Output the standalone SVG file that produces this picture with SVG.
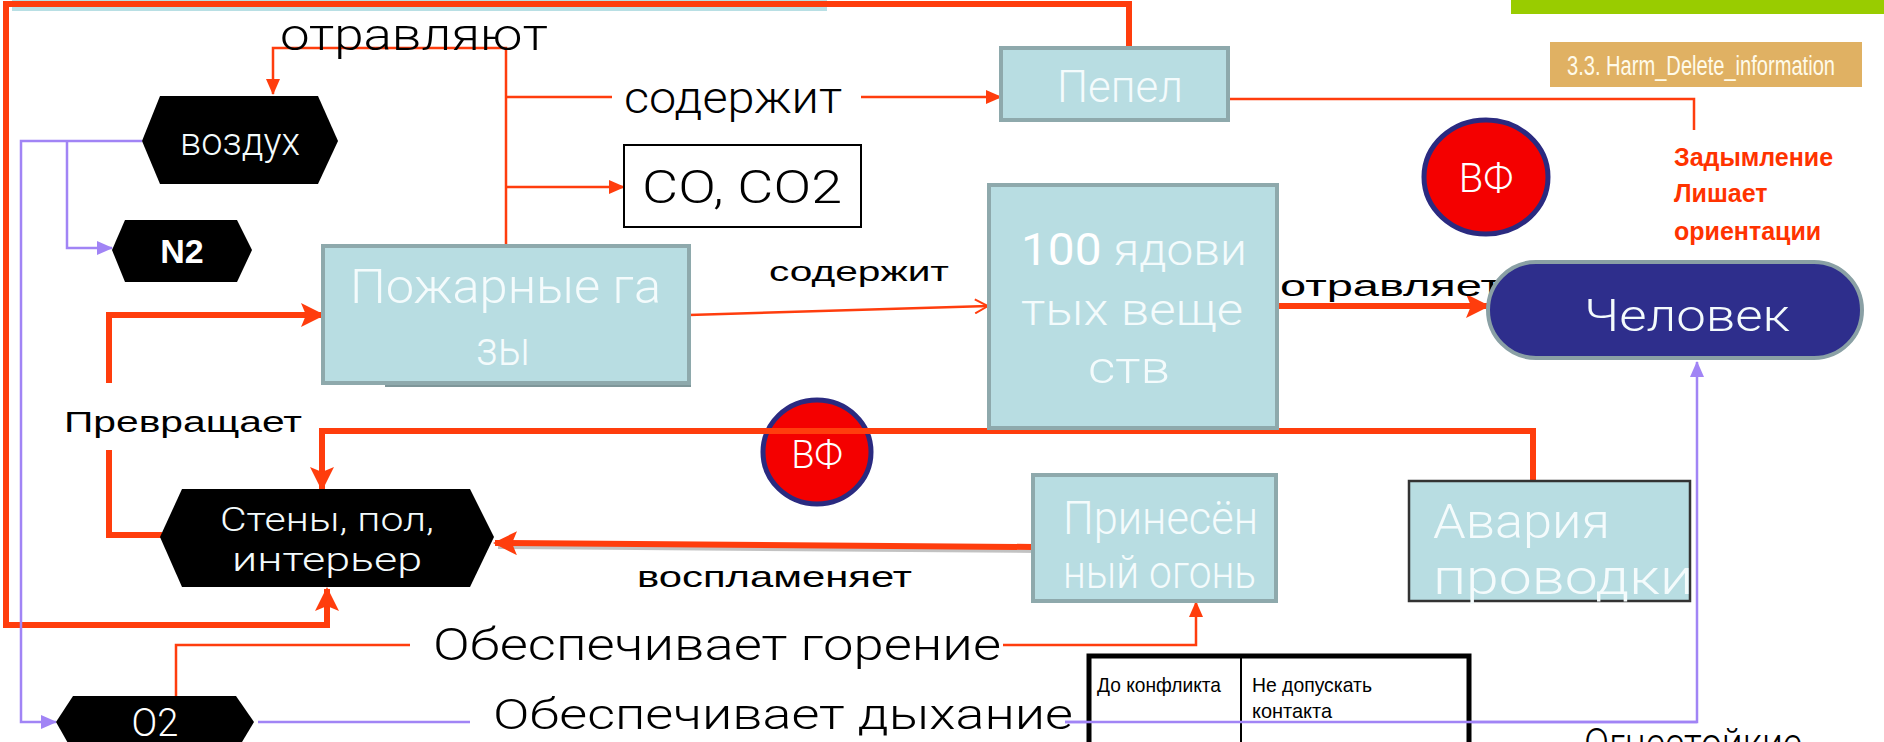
<svg xmlns="http://www.w3.org/2000/svg" width="1884" height="742" viewBox="0 0 1884 742">
<style>
.t{font-family:Roboto,"Liberation Sans",Arial,sans-serif;font-weight:300}
.lt{font-family:Roboto,"Liberation Sans",Arial,sans-serif;font-weight:300;fill:#000}
.lbl{font-family:"Liberation Sans Narrow","Liberation Sans",Arial,sans-serif;fill:#000}
.wt{font-family:Roboto,"Liberation Sans",Arial,sans-serif;font-weight:300;fill:#f4fbfc}
.box{fill:#b8dde2;stroke:#8ea9ac;stroke-width:4}
.hex{fill:#000}
.thin{fill:none;stroke:#ff3d0d;stroke-width:2.5}
.thick{fill:none;stroke:#ff3d0d;stroke-width:6}
.pur{fill:none;stroke:#a184f5;stroke-width:2.5}
.red{font-family:"Liberation Sans",Arial,sans-serif;font-weight:bold;fill:#ff3300;font-size:25px}
</style>
<defs>
<marker id="aThin" markerUnits="userSpaceOnUse" markerWidth="16" markerHeight="14" refX="15" refY="7" orient="auto"><path d="M0,0 L16,7 L0,14 Z" fill="#ff3d0d"/></marker>
<marker id="aThick" markerUnits="userSpaceOnUse" markerWidth="24" markerHeight="24" refX="22" refY="12" orient="auto"><path d="M0,0 L24,12 L0,24 L5,12 Z" fill="#ff3d0d"/></marker>
<marker id="aOpen" markerUnits="userSpaceOnUse" markerWidth="16" markerHeight="16" refX="15" refY="8" orient="auto"><path d="M2,1 L15,8 L2,15" fill="none" stroke="#ff3d0d" stroke-width="2"/></marker>
<marker id="aPur" markerUnits="userSpaceOnUse" markerWidth="16" markerHeight="14" refX="15" refY="7" orient="auto"><path d="M0,0 L16,7 L0,14 Z" fill="#a184f5"/></marker>
</defs>
<rect width="1884" height="742" fill="#fff"/>
<g id="decor">
<rect x="12" y="0" width="815" height="11" fill="#b8dfe4"/>
<rect x="1511" y="0" width="373" height="14" fill="#99cc00"/>
</g>
<g id="connectors">
<path class="thick" d="M1129,48 V4 H6 V625 H327 V589" marker-end="url(#aThick)"/>
<path class="thin" d="M506,247 V48 H273 V94" marker-end="url(#aThin)"/>
<path class="thin" d="M506,97 H612"/>
<path class="thin" d="M861,97 H1001" marker-end="url(#aThin)"/>
<path class="thin" d="M506,187 H624" marker-end="url(#aThin)"/>
<path class="thin" d="M689,315 L988,306" marker-end="url(#aOpen)" stroke-width="2"/>
<path class="thick" d="M1277,306 H1488" marker-end="url(#aThick)"/>
<path class="thin" d="M1228,99 H1694 V130" stroke-width="4"/>
<path class="thick" d="M1533,481 V431 H322 V489" marker-end="url(#aThick)"/>
<path class="thick" d="M162,535 H109 V450"/>
<path class="thick" d="M109,383 V315 H323" marker-end="url(#aThick)"/>
<path d="M1036,550 L498,546" stroke="#999" stroke-width="6" fill="none" opacity="0.6"/>
<path class="thick" d="M1033,547 L495,543" marker-end="url(#aThick)"/>
<path class="thin" d="M176,696 V645 H410"/>
<path class="thin" d="M1003,645 H1196 V602" marker-end="url(#aThin)"/>
<path class="pur" d="M142,141 H21 V722 H56" marker-end="url(#aPur)"/>
<path class="pur" d="M67,141 V248 H112" marker-end="url(#aPur)"/>
<path class="pur" d="M258,722 H470"/>
<path class="pur" d="M1065,722 H1697 V362" marker-end="url(#aPur)"/>
</g>
<g id="labels">
<text class="lt" x="280" y="50" font-size="44" textLength="268" lengthAdjust="spacingAndGlyphs">отравляют</text>
<text class="lt" x="624" y="113" font-size="44" textLength="218" lengthAdjust="spacingAndGlyphs">содержит</text>
<text class="lbl" x="769" y="281" font-size="28" textLength="180" lengthAdjust="spacingAndGlyphs">содержит</text>
<text class="lbl" x="1280" y="296" font-size="29" textLength="222" lengthAdjust="spacingAndGlyphs">отравляет</text>
<text class="lbl" x="64" y="432" font-size="30" textLength="238" lengthAdjust="spacingAndGlyphs">Превращает</text>
<text class="lbl" x="637" y="587" font-size="30" textLength="275" lengthAdjust="spacingAndGlyphs">воспламеняет</text>
<text class="lt" x="433" y="660" font-size="44" textLength="568" lengthAdjust="spacingAndGlyphs">Обеспечивает горение</text>
<text class="lt" x="493" y="729" font-size="43" textLength="580" lengthAdjust="spacingAndGlyphs">Обеспечивает дыхание</text>
<text class="red" x="1674" y="166">Задымление</text>
<text class="red" x="1674" y="202">Лишает</text>
<text class="red" x="1674" y="240">ориентации</text>
<text class="lt" x="1584" y="758" font-size="42" textLength="218" lengthAdjust="spacingAndGlyphs">Огнестойкие</text>
</g>
<g id="harm">
<rect x="1550" y="42" width="312" height="45" fill="#e0b163"/>
<text class="lbl" x="1567" y="75" font-size="27" style="fill:#fffbea" textLength="268" lengthAdjust="spacingAndGlyphs">3.3. Harm_Delete_information</text>
</g>
<g id="vozdukh">
<polygon class="hex" points="142,141 160,96 318,96 338,141 318,184 160,184"/>
<text class="wt" x="240" y="155" font-size="38" fill="#fff" text-anchor="middle" textLength="120" lengthAdjust="spacingAndGlyphs">воздух</text>
</g>
<g id="n2">
<polygon class="hex" points="112,250 125,220 237,220 252,250 237,282 125,282"/>
<text class="lbl" x="182" y="263" font-size="34" font-weight="bold" style="fill:#fff" text-anchor="middle">N2</text>
</g>
<g id="co">
<rect x="624" y="145" width="237" height="82" fill="#fff" stroke="#000" stroke-width="2"/>
<text class="lt" x="642" y="203" font-size="46" textLength="200" lengthAdjust="spacingAndGlyphs">CO, CO2</text>
</g>
<g id="pozh">
<rect x="385" y="380" width="306" height="7" fill="#7e9699"/>
<rect class="box" x="323" y="246" width="366" height="137"/>
<text class="wt" x="350" y="303" font-size="48" textLength="311" lengthAdjust="spacingAndGlyphs">Пожарные га</text>
<text class="wt" x="476" y="365" font-size="48" textLength="54" lengthAdjust="spacingAndGlyphs">зы</text>
</g>
<g id="pepel">
<rect class="box" x="1001" y="48" width="227" height="72"/>
<text class="wt" x="1057" y="102" font-size="44" textLength="126" lengthAdjust="spacingAndGlyphs">Пепел</text>
</g>
<g id="yad">
<rect class="box" x="989" y="185" width="288" height="243"/>
<text class="wt" x="1021" y="265" font-size="44" textLength="226" lengthAdjust="spacingAndGlyphs"><tspan fill="#fff" font-weight="400">100</tspan> ядови</text>
<text class="wt" x="1021" y="325" font-size="44" textLength="222" lengthAdjust="spacingAndGlyphs">тых веще</text>
<text class="wt" x="1088" y="383" font-size="44" textLength="82" lengthAdjust="spacingAndGlyphs">ств</text>
</g>
<g id="vf1">
<ellipse cx="1486" cy="177" rx="62" ry="57" fill="#f40000" stroke="#2a2a80" stroke-width="5"/>
<text class="t" x="1486" y="192" font-size="40" fill="#fff" text-anchor="middle">ВФ</text>
</g>
<g id="chel">
<rect x="1488" y="262" width="374" height="96" rx="48" fill="#2e2e8c" stroke="#8aa0a5" stroke-width="4"/>
<text class="wt" x="1584" y="331" font-size="44" textLength="206" lengthAdjust="spacingAndGlyphs">Человек</text>
</g>
<g id="vf2">
<ellipse cx="817" cy="452" rx="54" ry="52" fill="#f40000" stroke="#2a2a80" stroke-width="5"/>
<path class="thick" d="M760,431 H875"/>
<text class="t" x="817" y="468" font-size="38" fill="#fff" text-anchor="middle">ВФ</text>
</g>
<g id="steny">
<polygon class="hex" points="160,537 182,489 470,489 494,537 470,587 182,587"/>
<text class="wt" x="327" y="531" font-size="34" fill="#fff" text-anchor="middle" textLength="214" lengthAdjust="spacingAndGlyphs">Стены, пол,</text>
<text class="wt" x="327" y="571" font-size="34" fill="#fff" text-anchor="middle" textLength="190" lengthAdjust="spacingAndGlyphs">интерьер</text>
</g>
<g id="prines">
<rect class="box" x="1033" y="475" width="243" height="126"/>
<text class="wt" x="1063" y="534" font-size="46" textLength="195" lengthAdjust="spacingAndGlyphs">Принесён</text>
<text class="wt" x="1063" y="588" font-size="46" textLength="193" lengthAdjust="spacingAndGlyphs">ный огонь</text>
</g>
<g id="avaria">
<rect x="1409" y="481" width="281" height="120" fill="#b8dde2" stroke="#333" stroke-width="2.5"/>
<text class="wt" x="1433" y="538" font-size="48" textLength="177" lengthAdjust="spacingAndGlyphs">Авария</text>
<text class="wt" x="1433" y="594" font-size="48" textLength="260" lengthAdjust="spacingAndGlyphs">проводки</text>
</g>
<g id="o2">
<polygon class="hex" points="56,722 73,696 236,696 254,722 236,752 73,752"/>
<text class="t" x="155" y="736" font-size="38" fill="#fff" text-anchor="middle">O2</text>
</g>
<g id="table">
<rect x="1089" y="656" width="380" height="100" fill="#fff" stroke="#000" stroke-width="5"/>
<line x1="1241" y1="656" x2="1241" y2="742" stroke="#000" stroke-width="2"/>
<text class="lbl" x="1097" y="692" font-size="21" textLength="124" lengthAdjust="spacingAndGlyphs">До конфликта</text>
<text class="lbl" x="1252" y="692" font-size="21" textLength="120" lengthAdjust="spacingAndGlyphs">Не допускать</text>
<text class="lbl" x="1252" y="718" font-size="21" textLength="80" lengthAdjust="spacingAndGlyphs">контакта</text>
</g>
<path class="pur" d="M1065,722 H1697"/>
</svg>
